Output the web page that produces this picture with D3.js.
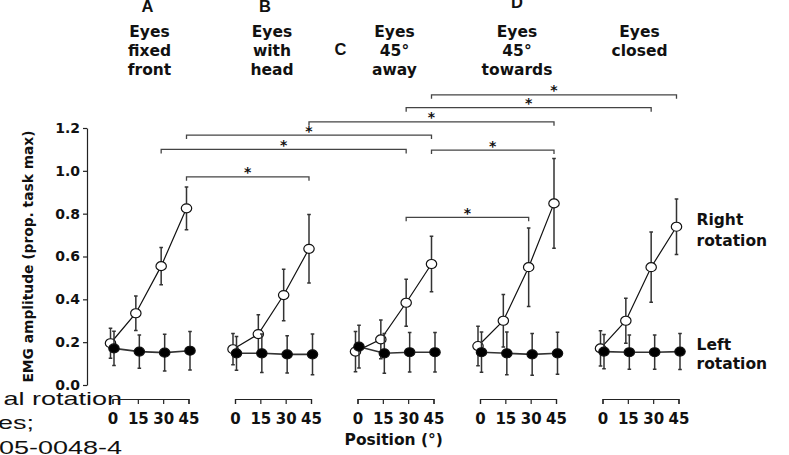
<!DOCTYPE html>
<html>
<head>
<meta charset="utf-8">
<script src="https://cdn.jsdelivr.net/npm/d3@7"></script>
<style>
  body { margin: 0; background: #fff; }
  svg { display: block; }
  .lbl { font-family: "DejaVu Sans", sans-serif; font-weight: bold; fill: #111; }
</style>
</head>
<body>
<div id="chart"></div>
<script>
// ---- data ----
const panels = ["A", "B", "C", "D", "E"]
const positions = [0, 15, 30, 45]
const panelLetters = ["A", "B", "C", "D", ""]
const conditionLabels = [
    ["Eyes", "fixed", "front"],
    ["Eyes", "with", "head"],
    ["Eyes", "45°", "away"],
    ["Eyes", "45°", "towards"],
    ["Eyes", "closed"]
]
const yTicks = [0, 0.2, 0.4, 0.6, 0.8, 1.0, 1.2]

// right rotation (open circles)
const rightMean = [
    [0.195, 0.335, 0.555, 0.825],
    [0.167, 0.238, 0.420, 0.636],
    [0.156, 0.213, 0.384, 0.565],
    [0.182, 0.300, 0.550, 0.848],
    [0.171, 0.300, 0.550, 0.739]
]
const rightErr = [
    [0.070, 0.080, 0.087, 0.100],
    [0.073, 0.090, 0.120, 0.160],
    [0.094, 0.090, 0.110, 0.130],
    [0.092, 0.123, 0.183, 0.210],
    [0.082, 0.105, 0.164, 0.130]
]
// left rotation (filled circles)
const leftMean = [
    [0.171, 0.156, 0.151, 0.160],
    [0.148, 0.148, 0.143, 0.143],
    [0.179, 0.148, 0.153, 0.153],
    [0.153, 0.148, 0.143, 0.148],
    [0.156, 0.153, 0.153, 0.156]
]
const leftErr = [
    [0.080, 0.078, 0.086, 0.090],
    [0.079, 0.090, 0.087, 0.095],
    [0.100, 0.093, 0.092, 0.092],
    [0.094, 0.100, 0.097, 0.098],
    [0.080, 0.080, 0.080, 0.084]
]
// significance brackets: [panel, position] -> [panel, position], height in y units
const bracketFrom = [["A", 45], ["A", 30], ["A", 45], ["B", 45], ["C", 30], ["C", 45], ["C", 45], ["C", 30]]
const bracketTo = [["B", 45], ["C", 30], ["C", 45], ["D", 45], ["E", 30], ["E", 45], ["D", 45], ["D", 30]]
const bracketLevel = [0.972, 1.100, 1.167, 1.229, 1.295, 1.355, 1.097, 0.783]

const captionLines = ["al rotation", "es;", "05-0048-4"]

// ---- layout ----
const width = 789
const height = 455

const panelScale = d3.scaleBand().domain(panels).range([112.5, 725])
const posScale = d3.scaleLinear().domain([0, 45]).range([0, 76])
const yScale = d3.scaleLinear().domain([0, 1.2]).range([385, 128])

const xOf = (p, pos) => panelScale(p) + posScale(pos)

const svg = d3.select("#chart")
    .append("svg")
    .attr("width", width)
    .attr("height", height)

// caption fragment peeking in at bottom left
svg.append("g")
    .attr("transform", "scale(1.5,1)")
    .selectAll("text")
    .data(captionLines)
    .enter()
    .append("text")
    .attr("x", (d, i) => i == 1 ? 34 / 1.5 : 122 / 1.5)
    .attr("y", (d, i) => 405 + i * 24.5)
    .attr("text-anchor", "end")
    .style("font-family", "Liberation Sans, Arial, sans-serif")
    .style("font-size", "18px")
    .style("fill", "#111")
    .text(d => d)

// Y axis
const yAxis = svg.append("g")
    .attr("transform", "translate(87,0)")
    .call(d3.axisLeft(yScale).tickValues(yTicks).tickFormat(d3.format(".1f")).tickSize(4).tickSizeOuter(0).tickPadding(3))
yAxis.selectAll("text")
    .attr("class", "lbl")
    .style("font-size", "14px")
    .attr("font-family", null)
yAxis.selectAll("path, line").attr("stroke", "#222").attr("stroke-width", 1.2)

svg.append("text")
    .attr("class", "lbl")
    .attr("transform", `translate(33,${yScale(0.6)}) rotate(-90)`)
    .attr("text-anchor", "middle")
    .style("font-size", "13.8px")
    .text("EMG amplitude (prop. task max)")

// X axes, one per panel
panels.forEach(p => {
    const g = svg.append("g")
        .attr("transform", `translate(${panelScale(p)},399)`)
        .call(d3.axisBottom(posScale).tickValues(positions).tickSize(5).tickSizeOuter(5).tickPadding(9))
    g.selectAll("text")
        .attr("class", "lbl")
        .style("font-size", "15px")
    g.selectAll("path, line").attr("stroke", "#222").attr("stroke-width", 1.2)
})

svg.append("text")
    .attr("class", "lbl")
    .attr("x", panelScale("C") + panelScale.bandwidth() / 2 - 25)
    .attr("y", 445)
    .attr("text-anchor", "middle")
    .style("font-size", "15.5px")
    .text("Position (°)")

// panel titles
panels.forEach((p, i) => {
    const cx = panelScale(p) + posScale(22.5)
    const t = svg.append("text")
        .attr("class", "lbl")
        .attr("text-anchor", "middle")
        .style("font-size", "15.5px")
    conditionLabels[i].forEach((s, j) => {
        t.append("tspan")
            .attr("x", cx - 1)
            .attr("y", 36.5 + j * 19.3)
            .text(s)
    })
})

// panel letters
const letterX = [-3, -8, -55, -1, 0]
const letterY = [11.5, 11.5, 55, 8.3, 0]
panels.forEach((p, i) => {
    if (!panelLetters[i]) return
    svg.append("text")
        .attr("x", panelScale(p) + posScale(22.5) + letterX[i])
        .attr("y", letterY[i])
        .attr("text-anchor", "middle")
        .style("font-family", "Liberation Sans, Arial, sans-serif")
        .style("font-weight", "bold")
        .style("font-size", "16.5px")
        .style("fill", "#111")
        .text(panelLetters[i])
})

// series
const openDx = -2
const fillDx = 1.5

function drawSeries(means, errs, dx, filled) {
    panels.forEach((p, i) => {
        const pts = positions.map((pos, k) => ({ x: xOf(p, pos) + dx, m: means[i][k], e: errs[i][k] }))
        const g = svg.append("g")

        // error bars
        g.selectAll("path.err")
            .data(pts)
            .enter()
            .append("path")
            .attr("d", d => {
                const y1 = yScale(d.m + d.e)
                const y2 = yScale(d.m - d.e)
                return `M${d.x - 1.8},${y1}H${d.x + 1.8}M${d.x},${y1}V${y2}M${d.x - 1.8},${y2}H${d.x + 1.8}`
            })
            .attr("fill", "none")
            .attr("stroke", "#333")
            .attr("stroke-width", 1.5)

        // connecting line
        g.append("path")
            .datum(pts)
            .attr("d", d3.line().x(d => d.x).y(d => yScale(d.m)))
            .attr("fill", "none")
            .attr("stroke", filled ? "#333" : "#111")
            .attr("stroke-width", filled ? 1.6 : 1.2)

        g.selectAll("ellipse")
            .data(pts)
            .enter()
            .append("ellipse")
            .attr("cx", d => d.x)
            .attr("cy", d => yScale(d.m))
            .attr("rx", 5.2)
            .attr("ry", 4.5)
            .attr("fill", filled ? "#000" : "#fff")
            .attr("stroke", "#111")
            .attr("stroke-width", 1.2)
    })
}

drawSeries(rightMean, rightErr, openDx, false)
drawSeries(leftMean, leftErr, fillDx, true)

// series labels
const labelX = xOf("E", 45) + 18
svg.append("text").attr("class", "lbl").style("font-size", "15.5px")
    .selectAll("tspan")
    .data(["Right", "rotation"])
    .enter()
    .append("tspan")
    .attr("x", labelX)
    .attr("y", (d, i) => yScale(0.77) + 5 + i * 20.5)
    .text(d => d)
svg.append("text").attr("class", "lbl").style("font-size", "15.5px")
    .selectAll("tspan")
    .data(["Left", "rotation"])
    .enter()
    .append("tspan")
    .attr("x", labelX)
    .attr("y", (d, i) => yScale(0.187) + 5 + i * 19.5)
    .text(d => d)

// significance brackets
bracketFrom.forEach((f, i) => {
    const t = bracketTo[i]
    const x1 = xOf(f[0], f[1]) + openDx
    const x2 = xOf(t[0], t[1]) + openDx
    const y = yScale(bracketLevel[i])
    svg.append("path")
        .attr("d", `M${x1},${y + 4}V${y}H${x2}V${y + 4}`)
        .attr("fill", "none")
        .attr("stroke", "#444")
        .attr("stroke-width", 1.3)
    svg.append("text")
        .attr("class", "lbl")
        .attr("x", (x1 + x2) / 2)
        .attr("y", y + 0.5)
        .attr("text-anchor", "middle")
        .style("font-size", "14px")
        .text("*")
})
</script>
</body>
</html>
